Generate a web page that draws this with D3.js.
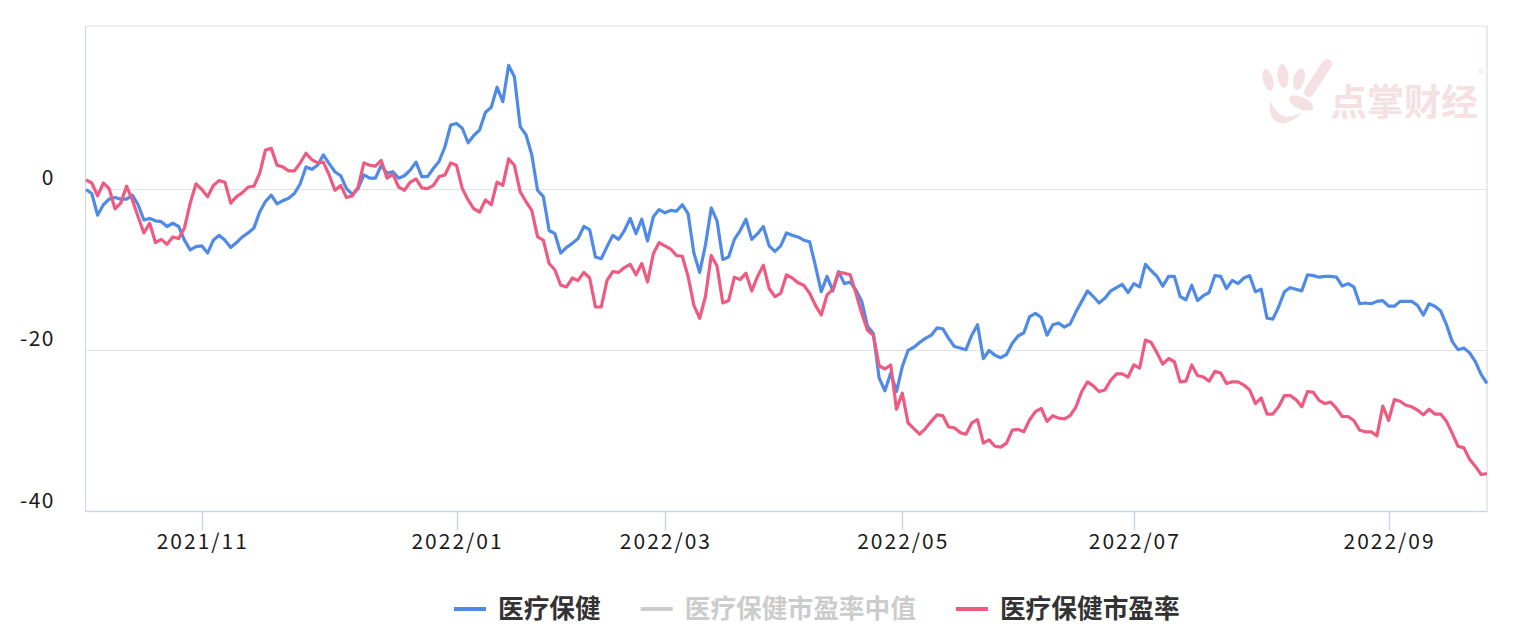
<!DOCTYPE html>
<html>
<head>
<meta charset="utf-8">
<script src="https://cdn.jsdelivr.net/npm/d3@7/dist/d3.min.js"></script>
<style>
  body { margin: 0; background: #fff; }
  svg text { font-family: "Noto Sans CJK SC", "Noto Sans", sans-serif; }
</style>
</head>
<body>
<svg id="chart"></svg>
<script>
// x axis: trading days, labels only on the first day of every other month
const tickLabels = ['2021/11', '2022/01', '2022/03', '2022/05', '2022/07', '2022/09'];
const tickIndex = [20, 64, 100, 141, 181, 225];
const yTicks = [0, -20, -40];

const seriesNames = ['医疗保健', '医疗保健市盈率中值', '医疗保健市盈率'];

// 医疗保健 (blue)
const health = [
  0.0, -0.5, -3.2, -1.9, -1.2, -1.0, -1.2, -1.2, -0.7, -1.9,
  -3.8, -3.6, -3.9, -4.0, -4.6, -4.2, -4.6, -6.3, -7.5, -7.1,
  -7.0, -7.9, -6.3, -5.7, -6.3, -7.2, -6.6, -5.9, -5.4, -4.8,
  -2.8, -1.5, -0.7, -1.8, -1.4, -1.1, -0.5, 0.7, 2.8, 2.5,
  3.0, 4.3, 3.2, 2.2, 1.7, 0.1, -0.6, 0.1, 1.8, 1.4,
  1.4, 3.0, 2.0, 2.2, 1.4, 1.7, 2.4, 3.4, 1.6, 1.6,
  2.6, 3.5, 5.3, 8.0, 8.2, 7.6, 5.8, 6.7, 7.4, 9.6,
  10.2, 12.7, 10.9, 15.4, 14.0, 7.8, 6.8, 4.3, -0.1, -0.9,
  -5.1, -5.5, -7.9, -7.2, -6.7, -6.1, -4.6, -5.0, -8.4, -8.6,
  -7.1, -5.7, -6.2, -5.1, -3.6, -5.5, -3.7, -6.4, -3.4, -2.5,
  -2.9, -2.6, -2.7, -1.9, -3.0, -7.9, -10.3, -6.9, -2.3, -3.9,
  -8.7, -8.4, -6.2, -5.1, -3.7, -6.2, -5.5, -4.6, -7.0, -7.7,
  -7.0, -5.4, -5.7, -5.9, -6.3, -6.5, -9.5, -12.7, -10.8, -12.6,
  -10.2, -11.7, -11.5, -12.5, -13.9, -17.0, -17.9, -23.4, -25.0, -22.8,
  -25.1, -22.0, -20.0, -19.6, -19.0, -18.5, -18.1, -17.2, -17.3, -18.5,
  -19.5, -19.7, -19.9, -18.1, -16.8, -21.0, -20.0, -20.6, -20.9, -20.5,
  -19.1, -18.2, -17.8, -15.8, -15.4, -15.9, -18.1, -16.8, -16.6, -17.1,
  -16.7, -15.2, -13.9, -12.6, -13.3, -14.1, -13.5, -12.6, -12.2, -11.8,
  -12.8, -11.7, -12.1, -9.3, -10.1, -10.8, -12.0, -10.8, -10.8, -13.3,
  -13.7, -11.9, -13.8, -13.2, -12.8, -10.7, -10.8, -12.3, -11.3, -11.7,
  -11.0, -10.7, -12.7, -12.4, -16.0, -16.1, -14.6, -12.7, -12.2, -12.4,
  -12.6, -10.6, -10.7, -10.9, -10.8, -10.8, -10.9, -12.0, -11.7, -12.1,
  -14.2, -14.1, -14.2, -13.9, -13.8, -14.5, -14.5, -13.9, -13.9, -13.9,
  -14.4, -15.6, -14.2, -14.5, -15.1, -16.8, -18.9, -19.9, -19.7, -20.3,
  -21.4, -23.0, -24.1
];

// 医疗保健市盈率 (red)
const pe = [
  1.2, 0.8, -0.8, 0.8, 0.1, -2.4, -1.7, 0.4, -1.3, -3.4,
  -5.4, -4.2, -6.6, -6.2, -6.8, -5.9, -6.1, -4.8, -1.7, 0.7,
  0.0, -0.9, 0.5, 1.1, 0.9, -1.7, -0.9, -0.4, 0.3, 0.4,
  2.0, 4.9, 5.1, 3.0, 2.8, 2.3, 2.3, 3.3, 4.5, 3.7,
  3.3, 3.4, 1.8, -0.1, 0.5, -1.0, -0.8, 0.3, 3.3, 3.0,
  2.9, 3.6, 1.4, 1.9, 0.3, -0.1, 0.9, 1.3, 0.2, 0.1,
  0.5, 1.6, 1.8, 3.3, 3.0, 0.1, -1.3, -2.4, -2.8, -1.3,
  -1.9, 0.9, 0.5, 3.8, 3.0, -0.3, -1.5, -2.6, -5.9, -6.3,
  -9.2, -10.0, -11.9, -12.1, -11.0, -11.3, -10.3, -11.0, -14.6, -14.6,
  -11.3, -10.2, -10.3, -9.7, -9.3, -10.6, -9.2, -11.5, -8.0, -6.6,
  -7.0, -7.4, -8.2, -8.3, -10.8, -14.4, -16.0, -13.3, -8.2, -9.5,
  -14.1, -13.8, -10.9, -11.2, -10.4, -12.6, -10.8, -9.4, -12.3, -13.3,
  -12.9, -10.6, -11.0, -11.6, -11.9, -12.9, -14.4, -15.6, -13.1, -12.4,
  -10.3, -10.4, -10.6, -12.9, -15.4, -17.5, -18.1, -21.9, -22.3, -21.8,
  -27.3, -25.3, -29.0, -29.7, -30.4, -29.7, -28.8, -28.0, -28.1, -29.5,
  -29.6, -30.2, -30.4, -29.0, -28.6, -31.5, -31.1, -31.9, -32.0, -31.5,
  -29.9, -29.8, -30.1, -28.6, -27.6, -27.2, -28.8, -28.1, -28.4, -28.5,
  -28.1, -27.0, -25.1, -23.9, -24.4, -25.1, -24.9, -23.7, -22.9, -22.9,
  -23.3, -21.8, -22.2, -18.7, -19.0, -20.3, -21.7, -21.0, -21.4, -23.9,
  -23.8, -21.8, -23.1, -23.3, -23.8, -22.6, -22.8, -24.1, -23.9, -23.9,
  -24.3, -24.9, -26.6, -25.9, -27.9, -27.9, -27.0, -25.6, -25.6, -26.1,
  -27.0, -25.1, -25.2, -26.2, -26.6, -26.4, -27.2, -28.2, -28.2, -28.7,
  -29.9, -30.1, -30.1, -30.6, -26.9, -28.7, -26.1, -26.3, -26.8, -27.0,
  -27.4, -28.0, -27.3, -27.9, -27.9, -28.8, -30.3, -31.9, -32.1, -33.5,
  -34.4, -35.4, -35.3
];

const colours = ['#4f8be6', '#cccccc', '#ee5a80'];

const W = 1525, H = 642;
const plot = {left: 86, right: 1487, top: 26, bottom: 511.5};

const svg = d3.select('#chart')
    .attr('width', W)
    .attr('height', H);

const x = d3.scaleLinear()
    .domain([0, health.length - 1])
    .range([plot.left, plot.right]);

const y = d3.scaleLinear()
    .domain([-40, 20.3])
    .range([plot.bottom, plot.top]);

//watermark (behind everything)
const wm = svg.append('g').attr('fill', '#f5e1e3');
wm.append('ellipse').attr('cx', 1268).attr('cy', 80).attr('rx', 5).attr('ry', 11)
    .attr('transform', 'rotate(-15 1268 80)');
wm.append('ellipse').attr('cx', 1283).attr('cy', 76).attr('rx', 5.5).attr('ry', 12)
    .attr('transform', 'rotate(-5 1283 76)');
wm.append('ellipse').attr('cx', 1299).attr('cy', 79).attr('rx', 5.5).attr('ry', 11)
    .attr('transform', 'rotate(15 1299 79)');
wm.append('line').attr('x1', 1327).attr('y1', 64).attr('x2', 1309).attr('y2', 92)
    .attr('stroke', '#f5e1e3').attr('stroke-width', 10).attr('stroke-linecap', 'round');
wm.append('ellipse').attr('cx', 1301).attr('cy', 103).attr('rx', 13).attr('ry', 6)
    .attr('transform', 'rotate(25 1301 103)');
wm.append('path')
    .attr('d', 'M1270,100 Q1268,125 1285,123 Q1296,120 1302,112 Q1292,118 1284,116 Q1274,112 1270,100 Z');
wm.append('text')
    .attr('x', 1330).attr('y', 116)
    .attr('font-size', 37).attr('font-weight', 700)
    .text('点掌财经');
wm.append('text')
    .attr('x', 1478).attr('y', 78)
    .attr('font-size', 11)
    .text('®');

//grid lines
svg.append('g')
    .selectAll('line')
    .data([0, -20])
    .join('line')
    .attr('x1', plot.left).attr('x2', plot.right)
    .attr('y1', d => Math.round(y(d)) + 0.5).attr('y2', d => Math.round(y(d)) + 0.5)
    .attr('stroke', '#e3e3e3').attr('stroke-width', 1);

// top border
svg.append('line')
    .attr('x1', plot.left).attr('x2', plot.right)
    .attr('y1', plot.top).attr('y2', plot.top)
    .attr('stroke', '#e3e3e3');

// left and right axis lines
svg.append('g')
    .selectAll('line')
    .data([plot.left - 0.5, plot.right])
    .join('line')
    .attr('x1', d => d).attr('x2', d => d)
    .attr('y1', plot.top).attr('y2', plot.bottom)
    .attr('stroke', '#ccd6eb').attr('stroke-width', 1);

// y labels sit just above their lines
svg.append('g')
    .selectAll('text')
    .data(yTicks)
    .join('text')
    .attr('x', 55)
    .attr('y', d => y(d) - 4)
    .attr('text-anchor', 'end')
    .attr('font-size', 21)
    .attr('letter-spacing', '1.5px')
    .attr('fill', '#1a1a1a')
    .text(d => d);

// x axis
const xAxis = svg.append('g');
xAxis.append('line')
    .attr('x1', plot.left - 1).attr('x2', plot.right + 0.5)
    .attr('y1', plot.bottom).attr('y2', plot.bottom)
    .attr('stroke', '#ccd6eb').attr('stroke-width', 1.5);
xAxis.selectAll('.tick')
    .data(tickIndex)
    .join('line')
    .attr('class', 'tick')
    .attr('x1', d => Math.round(x(d)) + 0.5).attr('x2', d => Math.round(x(d)) + 0.5)
    .attr('y1', plot.bottom).attr('y2', plot.bottom + 19)
    .attr('stroke', '#ccd6eb').attr('stroke-width', 1.5);
xAxis.selectAll('text')
    .data(tickIndex)
    .join('text')
    .attr('x', d => x(d) + 1)
    .attr('y', 549)
    .attr('text-anchor', 'middle')
    .attr('font-size', 21)
    .attr('letter-spacing', '2px')
    .attr('fill', '#1a1a1a')
    .text((d, i) => tickLabels[i]);

//lines
const line = d3.line()
    .x((d, i) => x(i))
    .y(d => y(d));

svg.append('path')
    .datum(health)
    .attr('d', line)
    .attr('fill', 'none')
    .attr('stroke', colours[0])
    .attr('stroke-width', 3.2)
    .attr('stroke-linejoin', 'round');

svg.append('path')
    .datum(pe)
    .attr('d', line)
    .attr('fill', 'none')
    .attr('stroke', colours[2])
    .attr('stroke-width', 3.2)
    .attr('stroke-linejoin', 'round');

//legend
const legend = svg.append('g');
let lx = 454;
seriesNames.forEach((name, i) => {
    const item = legend.append('g');
    item.append('line')
        .attr('x1', lx).attr('x2', lx + 32)
        .attr('y1', 609).attr('y2', 609)
        .attr('stroke', colours[i]).attr('stroke-width', 4);
    const t = item.append('text')
        .attr('x', lx + 44)
        .attr('y', 618)
        .attr('font-size', 25.7)
        .attr('font-weight', 700)
        .attr('fill', i === 1 ? '#cccccc' : '#333333')
        .text(name);
    lx += 44 + t.node().getComputedTextLength() + 40;
});
</script>
</body>
</html>
